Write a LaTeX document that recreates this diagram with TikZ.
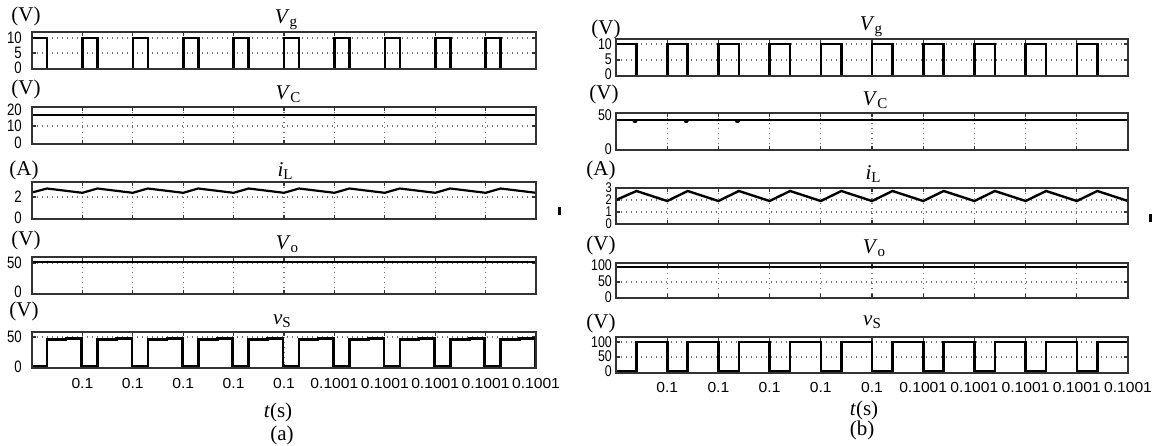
\documentclass[tikz,border=0pt]{standalone}
\usepackage{fontspec}
\setmainfont{Liberation Serif}
\newfontfamily\tickfont[FakeStretch=0.8]{Liberation Sans}
\newfontfamily\xfont[FakeStretch=1.08]{Liberation Sans}
\newcommand\sublbl[2]{\textit{#1}\raisebox{-0.35ex}{\fontsize{15}{15}\selectfont #2}}
% frame with vertical grid and ticks: x0, x1, top, bottom, period
\newcommand\plotframe[5]{%
  \foreach \k in {1,...,9} {%
    \draw[gridl] ({#1+\k*#5},#3) -- ({#1+\k*#5},#4);
    \draw[tickmark] ({#1+\k*#5},#3) -- ++(0,4);
    \draw[tickmark] ({#1+\k*#5},#4) -- ++(0,-4);
  }%
}
% horizontal grid line with side ticks: x0, x1, y
\newcommand\hgrid[3]{%
  \draw[gridl] (#1,#3) -- (#2,#3);
  \draw[tickmark] (#1,#3) -- ++(4,0);
  \draw[tickmark] (#2,#3) -- ++(-4,0);
}
\begin{document}
\begin{tikzpicture}[x=1pt,y=-1pt,
  frame/.style={draw=black!80, line width=1.2pt},
  gridl/.style={draw=black!55, line width=1.1pt, dash pattern=on 1.3pt off 3.7pt},
  wave/.style={draw=black, line width=2.6pt, line join=miter},
  tickmark/.style={draw=black!80, line width=1.2pt},
  unit/.style={font=\fontsize{21}{21}\selectfont, inner sep=0pt},
  title/.style={font=\fontsize{21}{21}\selectfont, inner sep=0pt},
  ylab/.style={font=\tickfont\fontsize{16.5}{16.5}\selectfont, inner sep=0pt, anchor=east},
  ylabr/.style={font=\tickfont\fontsize{15.5}{15.5}\selectfont, inner sep=0pt, anchor=east},
  ylabs/.style={font=\tickfont\fontsize{14}{14}\selectfont, inner sep=0pt, anchor=east},
  xlab/.style={font=\xfont\fontsize{14.5}{14.5}\selectfont, inner sep=0pt},
]
\useasboundingbox (0,0) rectangle (1153,445);

% ================= panel (a) =================
% Vg
\plotframe{32}{536}{32}{69}{50.4}
\hgrid{32}{536}{38}
\hgrid{32}{536}{53}
\draw[wave] (32,38) \foreach \k in {0,...,9} { -- ({32+\k*50.4},38) -- ({32+\k*50.4+15},38) -- ({32+\k*50.4+15},69) -- ({32+(\k+1)*50.4},69) };
\draw[frame] (32,32) rectangle (536,69);
% Vc
\plotframe{32}{536}{107}{144}{50.4}
\hgrid{32}{536}{126}
\draw[wave] (32,115) -- (536,115);
\draw[frame] (32,107) rectangle (536,144);
% iL
\plotframe{32}{536}{182}{219}{50.4}
\hgrid{32}{536}{197}
\draw[wave, line width=2.2pt] (32,192.5) \foreach \k in {0,...,9} { -- ({32+\k*50.4+15},188.5) -- ({32+(\k+1)*50.4},192.8) };
\draw[frame] (32,182) rectangle (536,219);
% Vo
\plotframe{32}{536}{257}{294}{50.4}
\hgrid{32}{536}{263}
\draw[wave] (32,262) -- (536,262);
\draw[frame] (32,257) rectangle (536,294);
% vS
\plotframe{32}{536}{332}{368}{50.4}
\hgrid{32}{536}{337}
\draw[wave] (32,366.5) \foreach \k in {0,...,9} { -- ({32+\k*50.4+15},366.5) -- ({32+\k*50.4+15},339.5) -- ({32+\k*50.4+34},339.5) -- ({32+\k*50.4+34},338.3) -- ({32+(\k+1)*50.4-1},338.3) -- ({32+(\k+1)*50.4-1},366.5) -- ({32+(\k+1)*50.4},366.5) };
\draw[frame] (32,332) rectangle (536,368);

% labels (a)
\node[unit] (aU1) at (26,16) {(V)};
\node[title] (aT1) at (286,20) {\sublbl{V}{g}};
\node[ylab] (aY1a) at (22,38) {10};
\node[ylab] (aY1b) at (22,53) {5};
\node[ylab] (aY1c) at (22,68) {0};
\node[unit] (aU2) at (26,89) {(V)};
\node[title] (aT2) at (288,94) {\sublbl{V}{C}};
\node[ylab] (aY2a) at (22,110) {20};
\node[ylab] (aY2b) at (22,126) {10};
\node[ylab] (aY2c) at (22,143) {0};
\node[unit] (aU3) at (24,170) {(A)};
\node[title] (aT3) at (285,171) {\sublbl{i}{L}};
\node[ylab] (aY3a) at (22,197) {2};
\node[ylab] (aY3b) at (22,218) {0};
\node[unit] (aU4) at (26,240) {(V)};
\node[title] (aT4) at (287,244) {\sublbl{V}{o}};
\node[ylab] (aY4a) at (22,263) {50};
\node[ylab] (aY4b) at (22,292) {0};
\node[unit] (aU5) at (24,311) {(V)};
\node[title] (aT5) at (282,321) {\sublbl{v}{S}};
\node[ylab] (aY5a) at (22,337) {50};
\node[ylab] (aY5b) at (22,367) {0};
\foreach \k in {1,...,5} \node[xlab] (aX\k) at ({32+\k*50.4},383) {0.1};
\foreach \k in {6,...,10} \node[xlab] (aX\k) at ({32+\k*50.4},383) {0.1001};
\node[title] (aTs) at (278,412) {\textit{t}(s)};
\node[title] (aCap) at (282,435) {(a)};

% ================= panel (b) =================
% Vg
\plotframe{616}{1128}{39}{76}{51.2}
\hgrid{616}{1128}{44}
\hgrid{616}{1128}{60}
\draw[wave] (616,44) \foreach \k in {0,...,9} { -- ({616+\k*51.2},44) -- ({616+\k*51.2+20.5},44) -- ({616+\k*51.2+20.5},76) -- ({616+(\k+1)*51.2},76) };
\draw[frame] (616,39) rectangle (1128,76);
% Vc
\plotframe{616}{1128}{113}{150}{51.2}
\draw[wave] (616,120) -- (1128,120);
\foreach \k in {0,1,2} \fill ({616+\k*51.2+19},121.3) ellipse (2.4pt and 1.8pt);
\draw[frame] (616,113) rectangle (1128,150);
% iL
\plotframe{616}{1128}{188}{224}{51.2}
\hgrid{616}{1128}{200}
\hgrid{616}{1128}{212}
\draw[wave, line width=2.4pt] (616,200) \foreach \k in {0,...,9} { -- ({616+\k*51.2+20.5},191) -- ({616+(\k+1)*51.2},201) };
\draw[frame] (616,188) rectangle (1128,224);
% Vo
\plotframe{616}{1128}{263}{298}{51.2}
\hgrid{616}{1128}{282}
\draw[wave] (616,267) -- (1128,267);
\draw[frame] (616,263) rectangle (1128,298);
% vS
\plotframe{616}{1128}{337}{373}{51.2}
\hgrid{616}{1128}{342}
\hgrid{616}{1128}{357}
\draw[wave] (616,371) \foreach \k in {0,...,9} { -- ({616+\k*51.2+20.5},371) -- ({616+\k*51.2+20.5},342) -- ({616+(\k+1)*51.2},342) -- ({616+(\k+1)*51.2},371) };
\draw[frame] (616,337) rectangle (1128,373);

% labels (b)
\node[unit] (bU1) at (606,29) {(V)};
\node[title] (bT1) at (871,27) {\sublbl{V}{g}};
\node[ylabr] (bY1a) at (612,44) {10};
\node[ylabr] (bY1b) at (612,59.5) {5};
\node[ylabr] (bY1c) at (612,74.5) {0};
\node[unit] (bU2) at (604,94.5) {(V)};
\node[title] (bT2) at (875,100) {\sublbl{V}{C}};
\node[ylabr] (bY2a) at (612,115) {50};
\node[ylabr] (bY2b) at (612,149) {0};
\node[unit] (bU3) at (601,170) {(A)};
\node[title] (bT3) at (873,174) {\sublbl{i}{L}};
\node[ylabs] (bY3a) at (612,188) {3};
\node[ylabs] (bY3b) at (612,200) {2};
\node[ylabs] (bY3c) at (612,212) {1};
\node[ylabs] (bY3d) at (612,224) {0};
\node[unit] (bU4) at (601,245) {(V)};
\node[title] (bT4) at (874,248) {\sublbl{V}{o}};
\node[ylabr] (bY4a) at (612,265) {100};
\node[ylabr] (bY4b) at (612,281.5) {50};
\node[ylabr] (bY4c) at (612,297) {0};
\node[unit] (bU5) at (601,323) {(V)};
\node[title] (bT5) at (872,322) {\sublbl{v}{S}};
\node[ylabr] (bY5a) at (612,342) {100};
\node[ylabr] (bY5b) at (612,356.5) {50};
\node[ylabr] (bY5c) at (612,371.5) {0};
\foreach \k in {1,...,5} \node[xlab] (bX\k) at ({616+\k*51.2},387) {0.1};
\foreach \k in {6,...,10} \node[xlab] (bX\k) at ({616+\k*51.2},387) {0.1001};
\node[title] (bTs) at (864,410) {\textit{t}(s)};
\node[title] (bCap) at (862,430) {(b)};

% small marks
\fill (557.5,207) rectangle (560.5,215);
\fill (1148.5,214) rectangle (1151.5,222);
\end{tikzpicture}
\end{document}
